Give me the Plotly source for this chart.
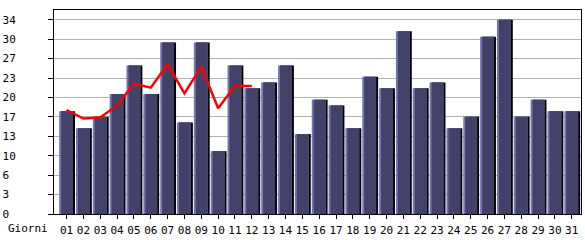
import plotly.graph_objects as go

days = [f"{d:02d}" for d in range(1, 32)]
visits = [18, 15, 17, 21, 26, 21, 30, 16, 30, 11, 26, 22, 23, 26, 14, 20, 19, 15, 24, 22,
          32, 22, 23, 15, 17, 31, 34, 17, 20, 18, 18]
trend_days = days[:12]
trend = [18.2, 16.7, 16.9, 19.0, 22.8, 22.1, 26.2, 21.1, 25.8, 18.5, 22.4, 22.4]

ytick_vals = [0, 3.4, 6.8, 10.2, 13.6, 17, 20.4, 23.8, 27.2, 30.6, 34]
ytick_text = ["0", "3", "6", "10", "13", "17", "20", "23", "27", "30", "34"]

FONT = "DejaVu Sans Mono"
slot = 17.0

fig = go.Figure()
# black shadow
fig.add_bar(x=days, y=visits, marker=dict(color="#000000", line_width=0),
            width=14 / slot, offset=-5.5 / slot, hoverinfo="skip")
# lavender highlight
fig.add_bar(x=days, y=visits, marker=dict(color="#7474b4", line_width=0),
            width=14 / slot, offset=-7.5 / slot, hoverinfo="skip")
# dark face
fig.add_bar(x=days, y=visits, marker=dict(color="#424268", line_width=0),
            width=12 / slot, offset=-5.5 / slot)
fig.add_scatter(x=trend_days, y=trend, mode="lines",
                line=dict(color="#ff0000", width=2.5))

ylabels = [t if len(t) == 2 else t + "\u00a0" for t in ytick_text]

fig.update_layout(
    width=585, height=240,
    margin=dict(l=50, r=3, t=10, b=20),
    paper_bgcolor="white", plot_bgcolor="white",
    barmode="overlay", showlegend=False,
    font=dict(family=FONT, size=11, color="black"),
    xaxis=dict(type="category", range=[-0.747, 30.55],
               showline=True, linecolor="black", linewidth=1, mirror=True,
               ticks="outside", ticklen=4, tickcolor="black",
               showgrid=False, zeroline=False, ticklabelstandoff=2,
               tickfont=dict(family=FONT, size=11)),
    yaxis=dict(range=[0, 35.7], tickvals=ytick_vals, ticktext=ylabels,
               showline=True, linecolor="black", linewidth=1, mirror=True,
               ticks="outside", ticklen=5, tickcolor="black",
               showgrid=True, gridcolor="#b0b0b0", gridwidth=1,
               zeroline=False, ticklabelstandoff=30,
               tickfont=dict(family=FONT, size=11)),
    annotations=[dict(text="Giorni", xref="paper", yref="paper",
                      x=-48 / 532, y=-15 / 210, xanchor="left", yanchor="middle",
                      showarrow=False, font=dict(family=FONT, size=11))],
)

fig.write_html("out.html")
